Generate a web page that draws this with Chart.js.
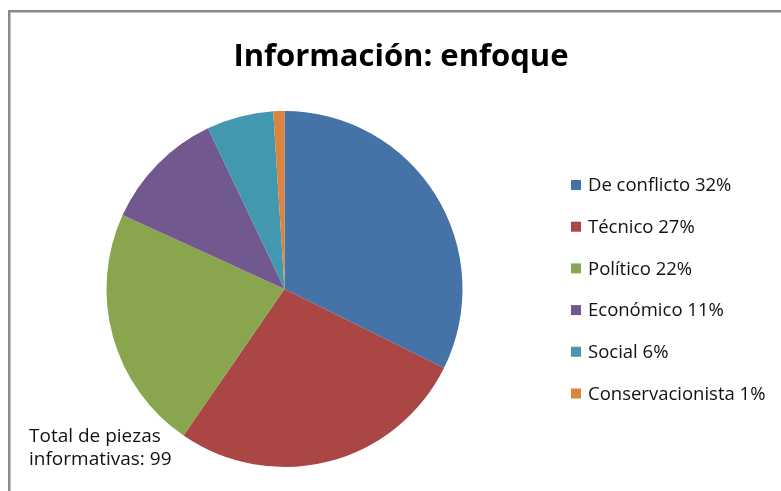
<!DOCTYPE html>
<html>
<head>
<meta charset="utf-8">
<script src="https://cdn.jsdelivr.net/npm/chart.js@4/dist/chart.umd.min.js"></script>
<style>
    html, body { margin: 0; padding: 0; background: #fff; }
    #wrap { position: relative; width: 781px; height: 491px; }
</style>
</head>
<body>
<div id="wrap"><canvas id="enfoqueChart"></canvas></div>
<script>
// Datos del gráfico
const categories = ['De conflicto', 'Técnico', 'Político', 'Económico', 'Social', 'Conservacionista'];
const pieces = [32, 27, 22, 11, 6, 1];
const sliceColors = ['#4572A7', '#AA4643', '#89A54E', '#71588F', '#4198AF', '#DB843D'];
const chartTitle = 'Información: enfoque';
const noteLines = ['Total de piezas', 'informativas: 99'];

const FONT = '"Open Sans", Lato, sans-serif';

// Title, legend, note and frame drawn on top of the pie
const decorPlugin = {
    id: 'decor',
    afterDraw(chart) {
        const ctx = chart.ctx;
        const total = pieces.reduce((a, b) => a + b, 0);
        ctx.save();

        // frame (cut on right and bottom like the original screenshot)
        ctx.strokeStyle = '#8a8a8a';
        ctx.lineWidth = 2.5;
        ctx.strokeRect(9.25, 11.25, 800, 500);

        // title
        ctx.fillStyle = '#000';
        ctx.font = 'bold 31px ' + FONT;
        ctx.textAlign = 'center';
        ctx.textBaseline = 'alphabetic';
        ctx.fillText(chartTitle, 401, 66);

        // legend
        ctx.font = '18.5px ' + FONT;
        ctx.textAlign = 'left';
        ctx.textBaseline = 'middle';
        categories.forEach((cat, i) => {
            const y = 185 + i * 41.7;
            const pct = Math.round(pieces[i] / total * 100);
            ctx.fillStyle = sliceColors[i];
            ctx.fillRect(571, y - 5, 10, 10);
            ctx.fillStyle = '#111';
            ctx.fillText(cat + ' ' + pct + '%', 588, y + 1);
        });

        // note
        ctx.font = '19px ' + FONT;
        ctx.textBaseline = 'alphabetic';
        noteLines.forEach((line, i) => {
            ctx.fillText(line, 29, 442 + i * 23);
        });

        ctx.restore();
    }
};

new Chart(document.getElementById('enfoqueChart'), {
    type: 'pie',
    data: {
        labels: categories,
        datasets: [{
            data: pieces,
            backgroundColor: sliceColors,
            borderWidth: 0
        }]
    },
    options: {
        responsive: true,
        maintainAspectRatio: false,
        animation: false,
        layout: {
            padding: { left: 106, right: 318, top: 111, bottom: 24 }
        },
        plugins: {
            legend: { display: false },
            title: { display: false },
            tooltip: { enabled: false }
        }
    },
    plugins: [decorPlugin]
});
</script>
</body>
</html>
